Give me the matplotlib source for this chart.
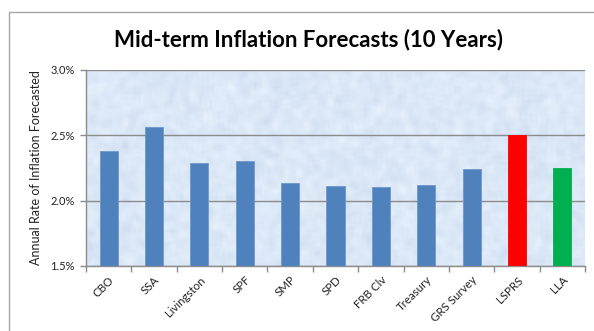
import numpy as np
import matplotlib
matplotlib.use("Agg")
import matplotlib.pyplot as plt
from matplotlib.lines import Line2D
from matplotlib.ticker import FuncFormatter

plt.rcParams['font.family'] = ['Lato', 'DejaVu Sans']

# Forecast sources and their 10-year annual inflation forecasts (%)
sources = ["CBO", "SSA", "Livingston", "SPF", "SMP", "SPD",
           "FRB Clv", "Treasury", "GRS Survey", "LSPRS", "LLA"]
forecasts = [2.38, 2.56, 2.29, 2.30, 2.13, 2.11, 2.10, 2.12, 2.24, 2.50, 2.25]
bar_colors = ["#4F81BD"] * 9 + ["#FF0000", "#00B050"]
y_ticks = [1.5, 2.0, 2.5, 3.0]

fig = plt.figure(figsize=(5.94, 3.31), dpi=100)
ax = fig.add_axes([86 / 594, 65 / 331, 499 / 594, 196.5 / 331])

# light blue paper-like backdrop
rng = np.random.default_rng(7)
tex = rng.normal(0, 1, (70, 190))
k = np.ones(3) / 3
tex = np.apply_along_axis(lambda r: np.convolve(r, k, mode="same"), 1, tex)
tex = np.apply_along_axis(lambda c: np.convolve(c, k, mode="same"), 0, tex)
base = np.array([0.86, 0.91, 0.968])
img = np.clip(base[None, None, :] + 0.045 * tex[:, :, None] * np.array([1.0, 0.8, 0.45]), 0, 1)
ax.imshow(img, extent=(-0.5, len(sources) - 0.5, y_ticks[0], y_ticks[-1]),
          aspect="auto", zorder=0, interpolation="bilinear")

x = np.arange(len(sources))
ax.bar(x, [v - y_ticks[0] for v in forecasts], bottom=y_ticks[0], width=0.4,
       color=bar_colors, edgecolor=[c if c != "#4F81BD" else "#6F97CB" for c in bar_colors],
       linewidth=0.6, zorder=3)

ax.set_xlim(-0.5, len(sources) - 0.5)
ax.set_ylim(y_ticks[0], y_ticks[-1])
ax.set_yticks(y_ticks)
ax.yaxis.set_major_formatter(FuncFormatter(lambda v, p: f"{v:.1f}%"))
ax.grid(axis="y", color="#8c8c8c", linewidth=1.0, zorder=1)
ax.set_axisbelow(False)

ax.set_xticks(x)
ax.set_xticklabels(sources, rotation=45, ha="right", rotation_mode="anchor",
                   fontsize=8.3, color="#222222")
ax.set_xticks(np.arange(-0.5, len(sources)), minor=True)
ax.tick_params(axis="x", which="major", length=0, pad=6)
ax.tick_params(axis="x", which="minor", length=4, color="#8c8c8c", width=1)
ax.tick_params(axis="y", length=4, color="#8c8c8c", width=1, labelsize=8,
               labelcolor="#222222", pad=4)

for side in ("top", "right"):
    ax.spines[side].set_visible(False)
for side in ("left", "bottom"):
    ax.spines[side].set_color("#8c8c8c")
    ax.spines[side].set_linewidth(1.0)

ax.set_ylabel("Annual Rate of Inflation Forecasted", fontsize=9, color="#222222",
              labelpad=6)

fig.text(309 / 594, 1 - 40 / 331, "Mid-term Inflation Forecasts (10 Years)",
         ha="center", va="center", fontsize=16, fontweight="bold", color="#000000")

# chart frame
fig.add_artist(Line2D([8.5 / 594, 8.5 / 594, 1.0], [0.0, 1 - 12 / 331, 1 - 12 / 331],
                      transform=fig.transFigure, color="#a6a6a6", linewidth=1.0))

fig.savefig("out.png", dpi=100, facecolor="white")
